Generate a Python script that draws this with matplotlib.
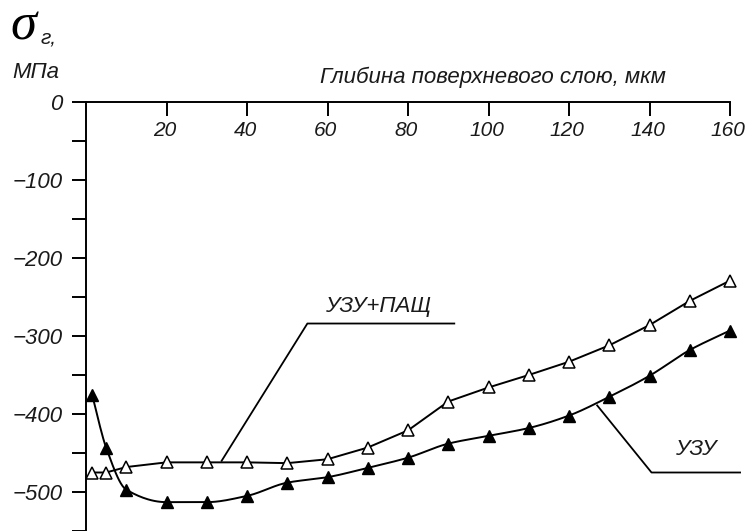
import numpy as np
import matplotlib
matplotlib.use("Agg")
import matplotlib.pyplot as plt
from matplotlib.ticker import MultipleLocator
from matplotlib.transforms import offset_copy

# Depth of the surface layer, um
depth = [1.5, 5, 10, 20, 30, 40, 50, 60, 70, 80, 90, 100, 110, 120, 130, 140, 150, 160]
# Residual stress, MPa
stress_uzu_pasch = [-475, -475, -468, -462, -462, -462, -463, -458, -443, -421,
                    -384, -366, -350, -333, -312, -286, -255, -229]
stress_uzu = [-375, -443, -497, -513, -513, -505, -488, -481, -469, -456,
              -438, -428, -418, -402, -378, -351, -318, -293]

x_ticks = [20, 40, 60, 80, 100, 120, 140, 160]
x_tick_labels = ["20", "40", "60", "80", "100", "120", "140", "160"]
y_ticks = [0, -100, -200, -300, -400, -500]
y_tick_labels = ["0", "\u2212100", "\u2212200", "\u2212300", "\u2212400", "\u2212500"]

FONT = ["Liberation Sans", "DejaVu Sans"]
plt.rcParams["font.family"] = FONT
FS = 16
TXT = "#1a1a1a"


def pchip(x, y, n=400):
    """Monotone cubic curve through (x, y) for drawing a smooth line."""
    x = np.asarray(x, float)
    y = np.asarray(y, float)
    h = np.diff(x)
    d = np.diff(y) / h
    m = np.zeros_like(y)
    for k in range(1, len(x) - 1):
        if d[k - 1] * d[k] > 0:
            w1 = 2 * h[k] + h[k - 1]
            w2 = h[k] + 2 * h[k - 1]
            m[k] = (w1 + w2) / (w1 / d[k - 1] + w2 / d[k])
    m[0] = d[0]
    m[-1] = d[-1]
    xs = np.linspace(x[0], x[-1], n)
    idx = np.clip(np.searchsorted(x, xs) - 1, 0, len(x) - 2)
    t = (xs - x[idx]) / h[idx]
    h00 = 2 * t**3 - 3 * t**2 + 1
    h10 = t**3 - 2 * t**2 + t
    h01 = -2 * t**3 + 3 * t**2
    h11 = t**3 - t**2
    ys = h00 * y[idx] + h10 * h[idx] * m[idx] + h01 * y[idx + 1] + h11 * h[idx] * m[idx + 1]
    return xs, ys


fig = plt.figure(figsize=(7.46, 5.31), dpi=100)
ax = fig.add_axes([86 / 746, 0.0, 644 / 746, 429 / 531])
ax.set_xlim(0, 160)
ax.set_ylim(-550, 0)

for side in ("right", "bottom"):
    ax.spines[side].set_visible(False)
for side in ("left", "top"):
    ax.spines[side].set_linewidth(1.4)

# x axis runs along the top, ticks pointing down into the field
ax.xaxis.set_ticks_position("top")
ax.set_xticks(x_ticks)
ax.tick_params(axis="x", direction="in", length=10, width=1.4, labeltop=False)
lbl_tr = offset_copy(ax.get_xaxis_transform(), fig=fig, x=-2, y=-19, units="dots")
for xv, s in zip(x_ticks, x_tick_labels):
    ax.text(xv, 1.0, s, transform=lbl_tr, ha="center", va="top",
            fontsize=15, style="italic", color=TXT)

ax.set_yticks(y_ticks)
ax.set_yticklabels(y_tick_labels, fontsize=FS, style="italic", color=TXT)
ax.yaxis.set_minor_locator(MultipleLocator(50))
ax.tick_params(axis="y", which="both", direction="out", length=10, width=1.4, pad=7)

# series
ax.plot(depth, stress_uzu_pasch, color="black", lw=1.4, zorder=2)
ax.plot(depth, stress_uzu_pasch, ls="none", marker="^", ms=8, mfc="white",
        mec="black", mew=1.1, zorder=3, clip_on=False)
sx, sy = pchip(depth, stress_uzu)
ax.plot(sx, sy, color="black", lw=1.4, zorder=2)
ax.plot(depth, stress_uzu, ls="none", marker="^", ms=8, mfc="black",
        mec="black", zorder=3, clip_on=False)

# leader lines with labels
ax.plot([33.7, 55.0, 91.5], [-460, -284, -284], color="black", lw=1.3, clip_on=False)
ax.text(72.5, -262, "УЗУ+ПАЩ", ha="center", va="center", fontsize=FS,
        style="italic", color=TXT)
ax.plot([127.0, 140.5, 162.5], [-389, -475, -475], color="black", lw=1.3, clip_on=False)
ax.text(151.5, -445, "УЗУ", ha="center", va="center", fontsize=FS,
        style="italic", color=TXT)

# axis titles
fig.text(493 / 746, 1 - 77 / 531, "Глибина поверхневого слою, мкм", ha="center",
         va="center", fontsize=FS, style="italic", color=TXT)
fig.text(12 / 746, 1 - 72 / 531, "МПа", ha="left", va="center", fontsize=FS,
         style="italic", color=TXT)
fig.text(10 / 746, 1 - 27 / 531, "σ", ha="left", va="center", fontsize=38,
         style="italic", family=["Liberation Serif", "DejaVu Serif"],
         color="black")
fig.text(41 / 746, 1 - 38 / 531, "г,", ha="left", va="center", fontsize=15,
         style="italic", color=TXT)

fig.savefig("out.png", dpi=100)
